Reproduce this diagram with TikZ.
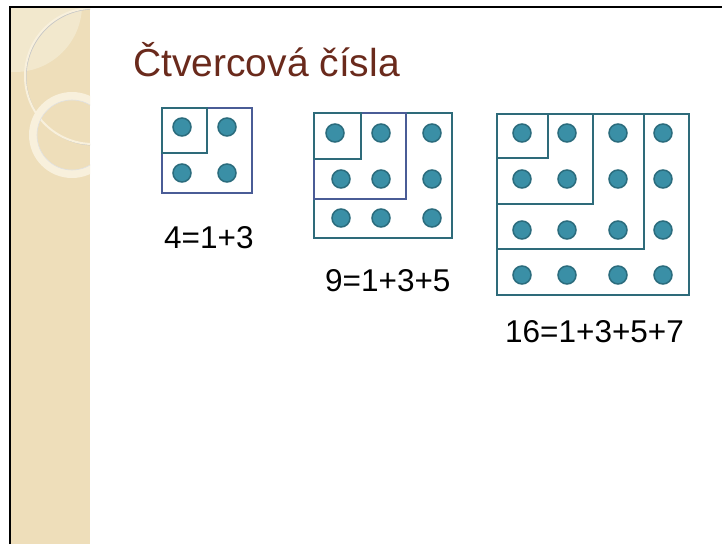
\documentclass[tikz,border=0pt]{standalone}
\usepackage{fontspec}
\setmainfont{Liberation Sans}
\usetikzlibrary{positioning}

\definecolor{strip}{RGB}{238,222,186}
\definecolor{stripLight}{RGB}{242,232,205}
\definecolor{ringCream}{RGB}{248,240,220}
\definecolor{titleBrown}{RGB}{106,42,28}
\definecolor{dotFill}{RGB}{58,143,166}
\definecolor{dotEdge}{RGB}{43,108,125}
\definecolor{tealBox}{RGB}{46,107,122}
\definecolor{slateBox}{RGB}{74,92,150}

\begin{document}
\begin{tikzpicture}[
    x=1pt, y=-1pt,
    frameline/.style={draw=black, line width=2pt},
    tealframe/.style={draw=tealBox, line width=2pt},
    slateframe/.style={draw=slateBox, line width=2pt},
    dot/.style={fill=dotFill, draw=dotEdge, line width=1.5pt},
    title/.style={anchor=base west, inner sep=0pt, text=titleBrown,
        font=\fontsize{39}{44}\selectfont},
    sumlabel/.style={anchor=base west, inner sep=0pt, text=black,
        font=\fontsize{31.5}{36}\selectfont}
]
\useasboundingbox (0,0) rectangle (722,544);
\fill[white] (0,0) rectangle (722,544);

% --- decorated side strip ---
\fill[strip] (11,7) rectangle (90,544);
\begin{scope}
  \clip (11,7) rectangle (90,544);
  \fill[stripLight] (15,5) circle[radius=67];
  \draw[black!22, line width=1pt] (94,77) circle[radius=68];
  \draw[ringCream, line width=2pt] (93,76) circle[radius=68];
  \draw[ringCream, line width=8pt] (72,135) circle[radius=39];
  \draw[black!12, line width=0.6pt] (72,135) circle[radius=35];
\end{scope}

% --- slide frame (top and left edges only) ---
\draw[frameline] (10,544) -- (10,7) -- (722,7);

% --- title ---
\node[title] (head) at (133,76) {Čtvercová čísla};

% --- square 2x2 ---
\draw[slateframe] (162,108) rectangle (252,193);
\draw[tealframe] (162,108) rectangle (207,153);
\foreach \x/\y in {182/127, 227/127, 182/173, 227/173}
  \draw[dot] (\x,\y) circle[radius=9];
\node[sumlabel] (sum4) at (164,248) {4=1+3};

% --- square 3x3 ---
\draw[tealframe] (314,113) rectangle (452,238);
\draw[slateframe] (314,113) rectangle (406,199);
\draw[tealframe] (314,113) rectangle (361,159);
\foreach \x/\y in {335/133, 381/133, 432/133,
                   341/179, 381/179, 432/179,
                   341/218, 381/218, 432/218}
  \draw[dot] (\x,\y) circle[radius=9];
\node[sumlabel] (sum9) at (325,291) {9=1+3+5};

% --- square 4x4 ---
\draw[tealframe] (497,114) rectangle (689,295);
\draw[tealframe] (497,114) rectangle (644,249);
\draw[tealframe] (497,114) rectangle (593,204);
\draw[tealframe] (497,114) rectangle (548,158);
\foreach \y in {133, 179, 230, 275}
  \foreach \x in {522, 567, 618, 663}
    \draw[dot] (\x,\y) circle[radius=9];
\node[sumlabel] (sum16) at (505,342) {16=1+3+5+7};

\end{tikzpicture}
\end{document}
